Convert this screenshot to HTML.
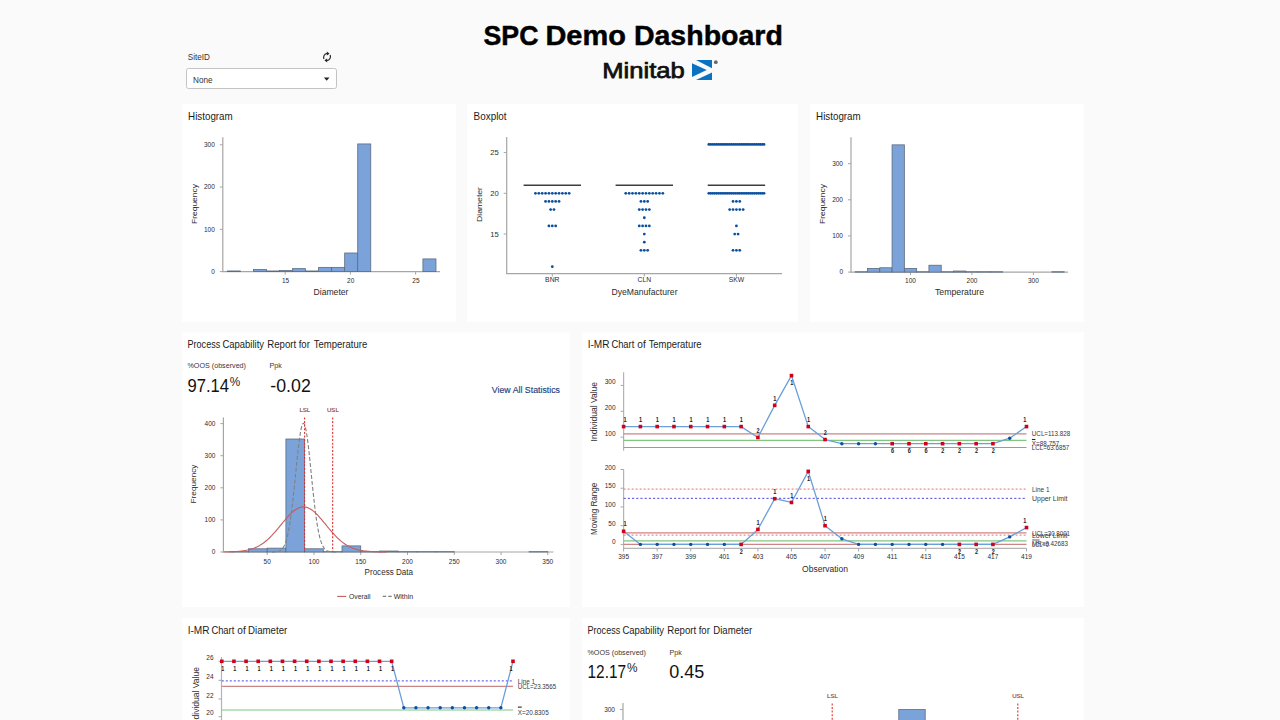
<!DOCTYPE html>
<html><head><meta charset="utf-8"><title>SPC Demo Dashboard</title>
<style>
html,body{margin:0;padding:0;background:#fafafa;overflow:hidden}
body{width:1280px;height:720px;position:relative;font-family:"Liberation Sans",sans-serif}
svg{position:absolute;left:0;top:0;display:block}
svg text{font-family:"Liberation Sans",sans-serif}
</style></head><body>
<svg width="1280" height="720" viewBox="0 0 1280 720">
<rect x="182.00" y="104.00" width="274.00" height="218.00" fill="#ffffff" />
<rect x="467.00" y="104.00" width="331.00" height="218.00" fill="#ffffff" />
<rect x="810.00" y="104.00" width="274.00" height="218.00" fill="#ffffff" />
<rect x="182.00" y="332.50" width="388.00" height="274.50" fill="#ffffff" />
<rect x="582.00" y="332.50" width="502.00" height="274.50" fill="#ffffff" />
<rect x="182.00" y="618.00" width="388.00" height="110.00" fill="#ffffff" />
<rect x="582.00" y="618.00" width="502.00" height="110.00" fill="#ffffff" />
<text x="483.50" y="45.40" font-size="27.8" text-anchor="start" fill="#000" font-weight="bold" textLength="55" lengthAdjust="spacingAndGlyphs" stroke="#000" stroke-width="0.45">SPC</text>
<text x="545.40" y="45.40" font-size="27.8" text-anchor="start" fill="#000" font-weight="bold" textLength="80.5" lengthAdjust="spacingAndGlyphs" stroke="#000" stroke-width="0.45">Demo</text>
<text x="633.90" y="45.40" font-size="27.8" text-anchor="start" fill="#000" font-weight="bold" textLength="149" lengthAdjust="spacingAndGlyphs" stroke="#000" stroke-width="0.45">Dashboard</text>
<text x="602.30" y="77.60" font-size="22.2" text-anchor="start" fill="#111" textLength="82.5" lengthAdjust="spacingAndGlyphs" stroke="#111" stroke-width="0.75">Minitab</text>
<g transform="translate(692,60)" fill="#0b72c1"><polygon points="4,0 20,0 20,8.3"/><polygon points="0,3.2 14.7,10 0,17"/><polygon points="20,12.4 20,20 4,20"/></g>
<circle cx="715.80" cy="62.20" r="1.9" fill="#6a6a6a"/>
<text x="187.80" y="59.90" font-size="9" text-anchor="start" fill="#333" textLength="22.2" lengthAdjust="spacingAndGlyphs" >SiteID</text>
<rect x="186.50" y="68.50" width="150.00" height="20.00" fill="#fff" stroke="#c4c4c4" stroke-width="1" rx="2"/>
<text x="193.00" y="82.60" font-size="8.4" text-anchor="start" fill="#333" textLength="19.5" lengthAdjust="spacingAndGlyphs" >None</text>
<polygon points="323.9,77.4 329.5,77.4 326.7,80.8" fill="#222"/>
<g fill="none" stroke="#222" stroke-width="1.15"><path d="M323.9,59 A3.5,4 0 0 1 327,53.5"/><path d="M330.2,55 A3.5,4 0 0 1 327,60.5"/></g><polygon points="326.8,51.4 329.6,53.7 326.8,55.6" fill="#222"/><polygon points="327.2,58.4 324.4,60.3 327.2,62.6" fill="#222"/>
<text x="188.10" y="119.80" font-size="10.3" text-anchor="start" fill="#1c1c1c" textLength="44.6" lengthAdjust="spacingAndGlyphs" >Histogram</text>
<line x1="222.80" y1="137.30" x2="222.80" y2="272.10" stroke="#a6a6a6" stroke-width="1.2" />
<line x1="222.20" y1="271.60" x2="440.00" y2="271.60" stroke="#a6a6a6" stroke-width="1.2" />
<line x1="219.80" y1="271.60" x2="222.80" y2="271.60" stroke="#a6a6a6" stroke-width="1" />
<text x="214.80" y="273.90" font-size="6.5" text-anchor="end" fill="#2c2c2c" >0</text>
<line x1="219.80" y1="229.33" x2="222.80" y2="229.33" stroke="#a6a6a6" stroke-width="1" />
<text x="214.80" y="231.63" font-size="6.5" text-anchor="end" fill="#2c2c2c" >100</text>
<line x1="219.80" y1="187.06" x2="222.80" y2="187.06" stroke="#a6a6a6" stroke-width="1" />
<text x="214.80" y="189.36" font-size="6.5" text-anchor="end" fill="#2c2c2c" >200</text>
<line x1="219.80" y1="144.79" x2="222.80" y2="144.79" stroke="#a6a6a6" stroke-width="1" />
<text x="214.80" y="147.09" font-size="6.5" text-anchor="end" fill="#2c2c2c" >300</text>
<line x1="285.20" y1="271.60" x2="285.20" y2="274.60" stroke="#a6a6a6" stroke-width="1" />
<text x="285.50" y="282.90" font-size="6.5" text-anchor="middle" fill="#2c2c2c" >15</text>
<line x1="350.40" y1="271.60" x2="350.40" y2="274.60" stroke="#a6a6a6" stroke-width="1" />
<text x="350.70" y="282.90" font-size="6.5" text-anchor="middle" fill="#2c2c2c" >20</text>
<line x1="415.60" y1="271.60" x2="415.60" y2="274.60" stroke="#a6a6a6" stroke-width="1" />
<text x="415.90" y="282.90" font-size="6.5" text-anchor="middle" fill="#2c2c2c" >25</text>
<rect x="227.32" y="270.97" width="13.04" height="0.63" fill="#7ba3d9" stroke="#5c6b80" stroke-width="0.8" />
<rect x="253.40" y="269.49" width="13.04" height="2.11" fill="#7ba3d9" stroke="#5c6b80" stroke-width="0.8" />
<rect x="266.44" y="270.97" width="13.04" height="0.63" fill="#7ba3d9" stroke="#5c6b80" stroke-width="0.8" />
<rect x="279.48" y="270.54" width="13.04" height="1.06" fill="#7ba3d9" stroke="#5c6b80" stroke-width="0.8" />
<rect x="292.52" y="268.64" width="13.04" height="2.96" fill="#7ba3d9" stroke="#5c6b80" stroke-width="0.8" />
<rect x="305.56" y="270.97" width="13.04" height="0.63" fill="#7ba3d9" stroke="#5c6b80" stroke-width="0.8" />
<rect x="318.60" y="267.37" width="13.04" height="4.23" fill="#7ba3d9" stroke="#5c6b80" stroke-width="0.8" />
<rect x="331.64" y="267.37" width="13.04" height="4.23" fill="#7ba3d9" stroke="#5c6b80" stroke-width="0.8" />
<rect x="344.68" y="253.00" width="13.04" height="18.60" fill="#7ba3d9" stroke="#5c6b80" stroke-width="0.8" />
<rect x="357.72" y="143.94" width="13.04" height="127.66" fill="#7ba3d9" stroke="#5c6b80" stroke-width="0.8" />
<rect x="422.92" y="258.92" width="13.04" height="12.68" fill="#7ba3d9" stroke="#5c6b80" stroke-width="0.8" />
<text x="331.00" y="295.00" font-size="8.3" text-anchor="middle" fill="#2c2c2c" textLength="35" lengthAdjust="spacingAndGlyphs" >Diameter</text>
<text x="197.20" y="204.00" font-size="8.1" text-anchor="middle" fill="#2c2c2c" textLength="40" lengthAdjust="spacingAndGlyphs" transform="rotate(-90 197.20 204.00)" >Frequency</text>
<text x="473.60" y="119.80" font-size="10.3" text-anchor="start" fill="#1c1c1c" textLength="33" lengthAdjust="spacingAndGlyphs" >Boxplot</text>
<line x1="506.70" y1="137.00" x2="506.70" y2="274.10" stroke="#a6a6a6" stroke-width="1.2" />
<line x1="506.10" y1="273.60" x2="782.00" y2="273.60" stroke="#a6a6a6" stroke-width="1.2" />
<line x1="503.70" y1="234.05" x2="506.70" y2="234.05" stroke="#a6a6a6" stroke-width="1" />
<text x="498.70" y="236.85" font-size="7.6" text-anchor="end" fill="#2c2c2c" >15</text>
<line x1="503.70" y1="193.30" x2="506.70" y2="193.30" stroke="#a6a6a6" stroke-width="1" />
<text x="498.70" y="196.10" font-size="7.6" text-anchor="end" fill="#2c2c2c" >20</text>
<line x1="503.70" y1="152.55" x2="506.70" y2="152.55" stroke="#a6a6a6" stroke-width="1" />
<text x="498.70" y="155.35" font-size="7.6" text-anchor="end" fill="#2c2c2c" >25</text>
<line x1="523.60" y1="185.15" x2="581.00" y2="185.15" stroke="#3c3c3c" stroke-width="1.5" />
<line x1="552.30" y1="273.60" x2="552.30" y2="276.60" stroke="#a6a6a6" stroke-width="1" />
<text x="552.30" y="282.00" font-size="6.8" text-anchor="middle" fill="#2c2c2c" >BNR</text>
<circle cx="535.45" cy="193.30" r="1.4" fill="#0a4fa0"/>
<circle cx="538.82" cy="193.30" r="1.4" fill="#0a4fa0"/>
<circle cx="542.19" cy="193.30" r="1.4" fill="#0a4fa0"/>
<circle cx="545.56" cy="193.30" r="1.4" fill="#0a4fa0"/>
<circle cx="548.93" cy="193.30" r="1.4" fill="#0a4fa0"/>
<circle cx="552.30" cy="193.30" r="1.4" fill="#0a4fa0"/>
<circle cx="555.67" cy="193.30" r="1.4" fill="#0a4fa0"/>
<circle cx="559.04" cy="193.30" r="1.4" fill="#0a4fa0"/>
<circle cx="562.41" cy="193.30" r="1.4" fill="#0a4fa0"/>
<circle cx="565.78" cy="193.30" r="1.4" fill="#0a4fa0"/>
<circle cx="569.15" cy="193.30" r="1.4" fill="#0a4fa0"/>
<circle cx="545.56" cy="201.45" r="1.4" fill="#0a4fa0"/>
<circle cx="548.93" cy="201.45" r="1.4" fill="#0a4fa0"/>
<circle cx="552.30" cy="201.45" r="1.4" fill="#0a4fa0"/>
<circle cx="555.67" cy="201.45" r="1.4" fill="#0a4fa0"/>
<circle cx="559.04" cy="201.45" r="1.4" fill="#0a4fa0"/>
<circle cx="550.62" cy="209.60" r="1.4" fill="#0a4fa0"/>
<circle cx="553.98" cy="209.60" r="1.4" fill="#0a4fa0"/>
<circle cx="548.93" cy="225.90" r="1.4" fill="#0a4fa0"/>
<circle cx="552.30" cy="225.90" r="1.4" fill="#0a4fa0"/>
<circle cx="555.67" cy="225.90" r="1.4" fill="#0a4fa0"/>
<circle cx="552.30" cy="266.65" r="1.4" fill="#0a4fa0"/>
<line x1="615.60" y1="185.15" x2="673.00" y2="185.15" stroke="#3c3c3c" stroke-width="1.5" />
<line x1="644.30" y1="273.60" x2="644.30" y2="276.60" stroke="#a6a6a6" stroke-width="1" />
<text x="644.30" y="282.00" font-size="6.8" text-anchor="middle" fill="#2c2c2c" >CLN</text>
<circle cx="625.76" cy="193.30" r="1.4" fill="#0a4fa0"/>
<circle cx="629.13" cy="193.30" r="1.4" fill="#0a4fa0"/>
<circle cx="632.50" cy="193.30" r="1.4" fill="#0a4fa0"/>
<circle cx="635.88" cy="193.30" r="1.4" fill="#0a4fa0"/>
<circle cx="639.25" cy="193.30" r="1.4" fill="#0a4fa0"/>
<circle cx="642.62" cy="193.30" r="1.4" fill="#0a4fa0"/>
<circle cx="645.98" cy="193.30" r="1.4" fill="#0a4fa0"/>
<circle cx="649.35" cy="193.30" r="1.4" fill="#0a4fa0"/>
<circle cx="652.72" cy="193.30" r="1.4" fill="#0a4fa0"/>
<circle cx="656.09" cy="193.30" r="1.4" fill="#0a4fa0"/>
<circle cx="659.46" cy="193.30" r="1.4" fill="#0a4fa0"/>
<circle cx="662.83" cy="193.30" r="1.4" fill="#0a4fa0"/>
<circle cx="640.93" cy="201.45" r="1.4" fill="#0a4fa0"/>
<circle cx="644.30" cy="201.45" r="1.4" fill="#0a4fa0"/>
<circle cx="647.67" cy="201.45" r="1.4" fill="#0a4fa0"/>
<circle cx="639.25" cy="209.60" r="1.4" fill="#0a4fa0"/>
<circle cx="642.62" cy="209.60" r="1.4" fill="#0a4fa0"/>
<circle cx="645.98" cy="209.60" r="1.4" fill="#0a4fa0"/>
<circle cx="649.35" cy="209.60" r="1.4" fill="#0a4fa0"/>
<circle cx="644.30" cy="217.75" r="1.4" fill="#0a4fa0"/>
<circle cx="639.25" cy="225.90" r="1.4" fill="#0a4fa0"/>
<circle cx="642.62" cy="225.90" r="1.4" fill="#0a4fa0"/>
<circle cx="645.98" cy="225.90" r="1.4" fill="#0a4fa0"/>
<circle cx="649.35" cy="225.90" r="1.4" fill="#0a4fa0"/>
<circle cx="644.30" cy="234.05" r="1.4" fill="#0a4fa0"/>
<circle cx="644.30" cy="242.20" r="1.4" fill="#0a4fa0"/>
<circle cx="640.93" cy="250.35" r="1.4" fill="#0a4fa0"/>
<circle cx="644.30" cy="250.35" r="1.4" fill="#0a4fa0"/>
<circle cx="647.67" cy="250.35" r="1.4" fill="#0a4fa0"/>
<line x1="707.70" y1="185.15" x2="765.10" y2="185.15" stroke="#3c3c3c" stroke-width="1.5" />
<line x1="736.40" y1="273.60" x2="736.40" y2="276.60" stroke="#a6a6a6" stroke-width="1" />
<text x="736.40" y="282.00" font-size="6.8" text-anchor="middle" fill="#2c2c2c" >SKW</text>
<circle cx="733.03" cy="201.45" r="1.4" fill="#0a4fa0"/>
<circle cx="736.40" cy="201.45" r="1.4" fill="#0a4fa0"/>
<circle cx="739.77" cy="201.45" r="1.4" fill="#0a4fa0"/>
<circle cx="729.66" cy="209.60" r="1.4" fill="#0a4fa0"/>
<circle cx="733.03" cy="209.60" r="1.4" fill="#0a4fa0"/>
<circle cx="736.40" cy="209.60" r="1.4" fill="#0a4fa0"/>
<circle cx="739.77" cy="209.60" r="1.4" fill="#0a4fa0"/>
<circle cx="743.14" cy="209.60" r="1.4" fill="#0a4fa0"/>
<circle cx="736.40" cy="225.90" r="1.4" fill="#0a4fa0"/>
<circle cx="734.72" cy="234.05" r="1.4" fill="#0a4fa0"/>
<circle cx="738.08" cy="234.05" r="1.4" fill="#0a4fa0"/>
<circle cx="733.03" cy="250.35" r="1.4" fill="#0a4fa0"/>
<circle cx="736.40" cy="250.35" r="1.4" fill="#0a4fa0"/>
<circle cx="739.77" cy="250.35" r="1.4" fill="#0a4fa0"/>
<circle cx="708.80" cy="144.40" r="1.4" fill="#0a4fa0"/>
<circle cx="710.70" cy="144.40" r="1.4" fill="#0a4fa0"/>
<circle cx="712.61" cy="144.40" r="1.4" fill="#0a4fa0"/>
<circle cx="714.51" cy="144.40" r="1.4" fill="#0a4fa0"/>
<circle cx="716.41" cy="144.40" r="1.4" fill="#0a4fa0"/>
<circle cx="718.32" cy="144.40" r="1.4" fill="#0a4fa0"/>
<circle cx="720.22" cy="144.40" r="1.4" fill="#0a4fa0"/>
<circle cx="722.12" cy="144.40" r="1.4" fill="#0a4fa0"/>
<circle cx="724.03" cy="144.40" r="1.4" fill="#0a4fa0"/>
<circle cx="725.93" cy="144.40" r="1.4" fill="#0a4fa0"/>
<circle cx="727.83" cy="144.40" r="1.4" fill="#0a4fa0"/>
<circle cx="729.74" cy="144.40" r="1.4" fill="#0a4fa0"/>
<circle cx="731.64" cy="144.40" r="1.4" fill="#0a4fa0"/>
<circle cx="733.54" cy="144.40" r="1.4" fill="#0a4fa0"/>
<circle cx="735.45" cy="144.40" r="1.4" fill="#0a4fa0"/>
<circle cx="737.35" cy="144.40" r="1.4" fill="#0a4fa0"/>
<circle cx="739.26" cy="144.40" r="1.4" fill="#0a4fa0"/>
<circle cx="741.16" cy="144.40" r="1.4" fill="#0a4fa0"/>
<circle cx="743.06" cy="144.40" r="1.4" fill="#0a4fa0"/>
<circle cx="744.97" cy="144.40" r="1.4" fill="#0a4fa0"/>
<circle cx="746.87" cy="144.40" r="1.4" fill="#0a4fa0"/>
<circle cx="748.77" cy="144.40" r="1.4" fill="#0a4fa0"/>
<circle cx="750.68" cy="144.40" r="1.4" fill="#0a4fa0"/>
<circle cx="752.58" cy="144.40" r="1.4" fill="#0a4fa0"/>
<circle cx="754.48" cy="144.40" r="1.4" fill="#0a4fa0"/>
<circle cx="756.39" cy="144.40" r="1.4" fill="#0a4fa0"/>
<circle cx="758.29" cy="144.40" r="1.4" fill="#0a4fa0"/>
<circle cx="760.19" cy="144.40" r="1.4" fill="#0a4fa0"/>
<circle cx="762.10" cy="144.40" r="1.4" fill="#0a4fa0"/>
<circle cx="764.00" cy="144.40" r="1.4" fill="#0a4fa0"/>
<circle cx="708.80" cy="193.30" r="1.4" fill="#0a4fa0"/>
<circle cx="710.70" cy="193.30" r="1.4" fill="#0a4fa0"/>
<circle cx="712.61" cy="193.30" r="1.4" fill="#0a4fa0"/>
<circle cx="714.51" cy="193.30" r="1.4" fill="#0a4fa0"/>
<circle cx="716.41" cy="193.30" r="1.4" fill="#0a4fa0"/>
<circle cx="718.32" cy="193.30" r="1.4" fill="#0a4fa0"/>
<circle cx="720.22" cy="193.30" r="1.4" fill="#0a4fa0"/>
<circle cx="722.12" cy="193.30" r="1.4" fill="#0a4fa0"/>
<circle cx="724.03" cy="193.30" r="1.4" fill="#0a4fa0"/>
<circle cx="725.93" cy="193.30" r="1.4" fill="#0a4fa0"/>
<circle cx="727.83" cy="193.30" r="1.4" fill="#0a4fa0"/>
<circle cx="729.74" cy="193.30" r="1.4" fill="#0a4fa0"/>
<circle cx="731.64" cy="193.30" r="1.4" fill="#0a4fa0"/>
<circle cx="733.54" cy="193.30" r="1.4" fill="#0a4fa0"/>
<circle cx="735.45" cy="193.30" r="1.4" fill="#0a4fa0"/>
<circle cx="737.35" cy="193.30" r="1.4" fill="#0a4fa0"/>
<circle cx="739.26" cy="193.30" r="1.4" fill="#0a4fa0"/>
<circle cx="741.16" cy="193.30" r="1.4" fill="#0a4fa0"/>
<circle cx="743.06" cy="193.30" r="1.4" fill="#0a4fa0"/>
<circle cx="744.97" cy="193.30" r="1.4" fill="#0a4fa0"/>
<circle cx="746.87" cy="193.30" r="1.4" fill="#0a4fa0"/>
<circle cx="748.77" cy="193.30" r="1.4" fill="#0a4fa0"/>
<circle cx="750.68" cy="193.30" r="1.4" fill="#0a4fa0"/>
<circle cx="752.58" cy="193.30" r="1.4" fill="#0a4fa0"/>
<circle cx="754.48" cy="193.30" r="1.4" fill="#0a4fa0"/>
<circle cx="756.39" cy="193.30" r="1.4" fill="#0a4fa0"/>
<circle cx="758.29" cy="193.30" r="1.4" fill="#0a4fa0"/>
<circle cx="760.19" cy="193.30" r="1.4" fill="#0a4fa0"/>
<circle cx="762.10" cy="193.30" r="1.4" fill="#0a4fa0"/>
<circle cx="764.00" cy="193.30" r="1.4" fill="#0a4fa0"/>
<text x="644.50" y="295.00" font-size="8.3" text-anchor="middle" fill="#2c2c2c" textLength="66" lengthAdjust="spacingAndGlyphs" >DyeManufacturer</text>
<text x="482.30" y="204.50" font-size="8.1" text-anchor="middle" fill="#2c2c2c" textLength="35" lengthAdjust="spacingAndGlyphs" transform="rotate(-90 482.30 204.50)" >Diameter</text>
<text x="816.10" y="119.80" font-size="10.3" text-anchor="start" fill="#1c1c1c" textLength="44.6" lengthAdjust="spacingAndGlyphs" >Histogram</text>
<line x1="851.00" y1="137.30" x2="851.00" y2="272.60" stroke="#a6a6a6" stroke-width="1.2" />
<line x1="850.40" y1="272.10" x2="1068.00" y2="272.10" stroke="#a6a6a6" stroke-width="1.2" />
<line x1="848.00" y1="272.10" x2="851.00" y2="272.10" stroke="#a6a6a6" stroke-width="1" />
<text x="843.00" y="274.40" font-size="6.5" text-anchor="end" fill="#2c2c2c" >0</text>
<line x1="848.00" y1="235.95" x2="851.00" y2="235.95" stroke="#a6a6a6" stroke-width="1" />
<text x="843.00" y="238.25" font-size="6.5" text-anchor="end" fill="#2c2c2c" >100</text>
<line x1="848.00" y1="199.80" x2="851.00" y2="199.80" stroke="#a6a6a6" stroke-width="1" />
<text x="843.00" y="202.10" font-size="6.5" text-anchor="end" fill="#2c2c2c" >200</text>
<line x1="848.00" y1="163.65" x2="851.00" y2="163.65" stroke="#a6a6a6" stroke-width="1" />
<text x="843.00" y="165.95" font-size="6.5" text-anchor="end" fill="#2c2c2c" >300</text>
<line x1="910.50" y1="272.10" x2="910.50" y2="275.10" stroke="#a6a6a6" stroke-width="1" />
<text x="910.50" y="282.70" font-size="6.5" text-anchor="middle" fill="#2c2c2c" >100</text>
<line x1="971.95" y1="272.10" x2="971.95" y2="275.10" stroke="#a6a6a6" stroke-width="1" />
<text x="971.95" y="282.70" font-size="6.5" text-anchor="middle" fill="#2c2c2c" >200</text>
<line x1="1033.40" y1="272.10" x2="1033.40" y2="275.10" stroke="#a6a6a6" stroke-width="1" />
<text x="1033.40" y="282.70" font-size="6.5" text-anchor="middle" fill="#2c2c2c" >300</text>
<rect x="855.19" y="271.74" width="12.29" height="0.36" fill="#7ba3d9" stroke="#5c6b80" stroke-width="0.8" />
<rect x="867.49" y="268.49" width="12.29" height="3.61" fill="#7ba3d9" stroke="#5c6b80" stroke-width="0.8" />
<rect x="879.77" y="267.76" width="12.29" height="4.34" fill="#7ba3d9" stroke="#5c6b80" stroke-width="0.8" />
<rect x="892.07" y="144.85" width="12.29" height="127.25" fill="#7ba3d9" stroke="#5c6b80" stroke-width="0.8" />
<rect x="904.36" y="268.49" width="12.29" height="3.61" fill="#7ba3d9" stroke="#5c6b80" stroke-width="0.8" />
<rect x="916.64" y="271.74" width="12.29" height="0.36" fill="#7ba3d9" stroke="#5c6b80" stroke-width="0.8" />
<rect x="928.93" y="265.23" width="12.29" height="6.87" fill="#7ba3d9" stroke="#5c6b80" stroke-width="0.8" />
<rect x="941.23" y="271.74" width="12.29" height="0.36" fill="#7ba3d9" stroke="#5c6b80" stroke-width="0.8" />
<rect x="953.51" y="271.02" width="12.29" height="1.08" fill="#7ba3d9" stroke="#5c6b80" stroke-width="0.8" />
<rect x="965.81" y="271.74" width="12.29" height="0.36" fill="#7ba3d9" stroke="#5c6b80" stroke-width="0.8" />
<rect x="978.10" y="271.74" width="12.29" height="0.36" fill="#7ba3d9" stroke="#5c6b80" stroke-width="0.8" />
<rect x="990.38" y="271.74" width="12.29" height="0.36" fill="#7ba3d9" stroke="#5c6b80" stroke-width="0.8" />
<rect x="1051.84" y="271.74" width="12.29" height="0.36" fill="#7ba3d9" stroke="#5c6b80" stroke-width="0.8" />
<text x="959.50" y="295.00" font-size="8.3" text-anchor="middle" fill="#2c2c2c" textLength="49" lengthAdjust="spacingAndGlyphs" >Temperature</text>
<text x="825.00" y="204.00" font-size="8.1" text-anchor="middle" fill="#2c2c2c" textLength="40" lengthAdjust="spacingAndGlyphs" transform="rotate(-90 825.00 204.00)" >Frequency</text>
<text x="187.55" y="347.70" font-size="10.3" text-anchor="start" fill="#1c1c1c" textLength="32.65" lengthAdjust="spacingAndGlyphs" >Process</text>
<text x="222.49" y="347.70" font-size="10.3" text-anchor="start" fill="#1c1c1c" textLength="41.56" lengthAdjust="spacingAndGlyphs" >Capability</text>
<text x="267.20" y="347.70" font-size="10.3" text-anchor="start" fill="#1c1c1c" textLength="28.99" lengthAdjust="spacingAndGlyphs" >Report</text>
<text x="298.66" y="347.70" font-size="10.3" text-anchor="start" fill="#1c1c1c" textLength="11.2" lengthAdjust="spacingAndGlyphs" >for</text>
<text x="313.75" y="347.70" font-size="10.3" text-anchor="start" fill="#1c1c1c" textLength="53.47" lengthAdjust="spacingAndGlyphs" >Temperature</text>
<text x="187.50" y="368.30" font-size="7.7" text-anchor="start" fill="#383838" textLength="58.5" lengthAdjust="spacingAndGlyphs" >%OOS (observed)</text>
<text x="269.50" y="368.30" font-size="7.7" text-anchor="start" fill="#383838" textLength="12.3" lengthAdjust="spacingAndGlyphs" >Ppk</text>
<text x="187.50" y="391.60" font-size="17.8" text-anchor="start" fill="#111" textLength="41.5" lengthAdjust="spacingAndGlyphs" >97.14</text>
<text x="229.80" y="386.00" font-size="12" text-anchor="start" fill="#222" textLength="10.5" lengthAdjust="spacingAndGlyphs" >%</text>
<text x="270.30" y="391.60" font-size="17.8" text-anchor="start" fill="#111" textLength="40.5" lengthAdjust="spacingAndGlyphs" >-0.02</text>
<text x="560.00" y="392.90" font-size="8.3" text-anchor="end" fill="#1f3f7f" textLength="68.2" lengthAdjust="spacingAndGlyphs" stroke="#1f3f7f" stroke-width="0.15">View All Statistics</text>
<line x1="223.40" y1="417.50" x2="223.40" y2="552.50" stroke="#a6a6a6" stroke-width="1.2" />
<line x1="222.80" y1="552.00" x2="553.50" y2="552.00" stroke="#a6a6a6" stroke-width="1.2" />
<line x1="220.40" y1="552.00" x2="223.40" y2="552.00" stroke="#a6a6a6" stroke-width="1" />
<text x="215.40" y="554.30" font-size="6.5" text-anchor="end" fill="#2c2c2c" >0</text>
<line x1="220.40" y1="519.90" x2="223.40" y2="519.90" stroke="#a6a6a6" stroke-width="1" />
<text x="215.40" y="522.20" font-size="6.5" text-anchor="end" fill="#2c2c2c" >100</text>
<line x1="220.40" y1="487.80" x2="223.40" y2="487.80" stroke="#a6a6a6" stroke-width="1" />
<text x="215.40" y="490.10" font-size="6.5" text-anchor="end" fill="#2c2c2c" >200</text>
<line x1="220.40" y1="455.70" x2="223.40" y2="455.70" stroke="#a6a6a6" stroke-width="1" />
<text x="215.40" y="458.00" font-size="6.5" text-anchor="end" fill="#2c2c2c" >300</text>
<line x1="220.40" y1="423.60" x2="223.40" y2="423.60" stroke="#a6a6a6" stroke-width="1" />
<text x="215.40" y="425.90" font-size="6.5" text-anchor="end" fill="#2c2c2c" >400</text>
<line x1="267.20" y1="552.00" x2="267.20" y2="555.00" stroke="#a6a6a6" stroke-width="1" />
<text x="267.20" y="563.50" font-size="6.5" text-anchor="middle" fill="#2c2c2c" >50</text>
<line x1="313.96" y1="552.00" x2="313.96" y2="555.00" stroke="#a6a6a6" stroke-width="1" />
<text x="313.96" y="563.50" font-size="6.5" text-anchor="middle" fill="#2c2c2c" >100</text>
<line x1="360.73" y1="552.00" x2="360.73" y2="555.00" stroke="#a6a6a6" stroke-width="1" />
<text x="360.73" y="563.50" font-size="6.5" text-anchor="middle" fill="#2c2c2c" >150</text>
<line x1="407.50" y1="552.00" x2="407.50" y2="555.00" stroke="#a6a6a6" stroke-width="1" />
<text x="407.50" y="563.50" font-size="6.5" text-anchor="middle" fill="#2c2c2c" >200</text>
<line x1="454.26" y1="552.00" x2="454.26" y2="555.00" stroke="#a6a6a6" stroke-width="1" />
<text x="454.26" y="563.50" font-size="6.5" text-anchor="middle" fill="#2c2c2c" >250</text>
<line x1="501.02" y1="552.00" x2="501.02" y2="555.00" stroke="#a6a6a6" stroke-width="1" />
<text x="501.02" y="563.50" font-size="6.5" text-anchor="middle" fill="#2c2c2c" >300</text>
<line x1="547.79" y1="552.00" x2="547.79" y2="555.00" stroke="#a6a6a6" stroke-width="1" />
<text x="547.79" y="563.50" font-size="6.5" text-anchor="middle" fill="#2c2c2c" >350</text>
<rect x="229.79" y="551.68" width="18.71" height="0.32" fill="#7ba3d9" stroke="#5c6b80" stroke-width="0.8" />
<rect x="248.49" y="548.79" width="18.71" height="3.21" fill="#7ba3d9" stroke="#5c6b80" stroke-width="0.8" />
<rect x="267.20" y="548.15" width="18.71" height="3.85" fill="#7ba3d9" stroke="#5c6b80" stroke-width="0.8" />
<rect x="285.91" y="439.01" width="18.71" height="112.99" fill="#7ba3d9" stroke="#5c6b80" stroke-width="0.8" />
<rect x="304.61" y="548.79" width="18.71" height="3.21" fill="#7ba3d9" stroke="#5c6b80" stroke-width="0.8" />
<rect x="323.32" y="551.68" width="18.71" height="0.32" fill="#7ba3d9" stroke="#5c6b80" stroke-width="0.8" />
<rect x="342.02" y="545.90" width="18.71" height="6.10" fill="#7ba3d9" stroke="#5c6b80" stroke-width="0.8" />
<rect x="360.73" y="551.68" width="18.71" height="0.32" fill="#7ba3d9" stroke="#5c6b80" stroke-width="0.8" />
<rect x="379.44" y="551.04" width="18.71" height="0.96" fill="#7ba3d9" stroke="#5c6b80" stroke-width="0.8" />
<rect x="398.14" y="551.68" width="18.71" height="0.32" fill="#7ba3d9" stroke="#5c6b80" stroke-width="0.8" />
<rect x="416.85" y="551.68" width="18.71" height="0.32" fill="#7ba3d9" stroke="#5c6b80" stroke-width="0.8" />
<rect x="435.55" y="551.68" width="18.71" height="0.32" fill="#7ba3d9" stroke="#5c6b80" stroke-width="0.8" />
<rect x="529.08" y="551.68" width="18.71" height="0.32" fill="#7ba3d9" stroke="#5c6b80" stroke-width="0.8" />
<polyline points="224.18,551.92 225.11,551.91 226.05,551.89 226.98,551.87 227.92,551.85 228.85,551.83 229.79,551.81 230.72,551.78 231.66,551.75 232.59,551.71 233.53,551.67 234.46,551.62 235.40,551.57 236.34,551.51 237.27,551.45 238.21,551.37 239.14,551.29 240.08,551.20 241.01,551.10 241.95,550.99 242.88,550.87 243.82,550.73 244.75,550.59 245.69,550.42 246.62,550.24 247.56,550.05 248.49,549.83 249.43,549.60 250.36,549.34 251.30,549.07 252.24,548.77 253.17,548.44 254.11,548.09 255.04,547.72 255.98,547.31 256.91,546.88 257.85,546.42 258.78,545.93 259.72,545.40 260.65,544.84 261.59,544.25 262.52,543.62 263.46,542.96 264.39,542.26 265.33,541.53 266.26,540.76 267.20,539.96 268.14,539.12 269.07,538.25 270.01,537.34 270.94,536.40 271.88,535.44 272.81,534.44 273.75,533.41 274.68,532.36 275.62,531.29 276.55,530.20 277.49,529.09 278.42,527.96 279.36,526.83 280.29,525.68 281.23,524.54 282.16,523.39 283.10,522.25 284.04,521.12 284.97,520.00 285.91,518.89 286.84,517.81 287.78,516.76 288.71,515.74 289.65,514.75 290.58,513.81 291.52,512.91 292.45,512.06 293.39,511.26 294.32,510.52 295.26,509.84 296.19,509.22 297.13,508.67 298.06,508.19 299.00,507.79 299.94,507.45 300.87,507.20 301.81,507.02 302.74,506.92 303.68,506.90 304.61,506.96 305.55,507.10 306.48,507.31 307.42,507.61 308.35,507.97 309.29,508.42 310.22,508.93 311.16,509.51 312.09,510.16 313.03,510.87 313.96,511.64 314.90,512.46 315.84,513.34 316.77,514.26 317.71,515.23 318.64,516.23 319.58,517.27 320.51,518.34 321.45,519.43 322.38,520.54 323.32,521.67 324.25,522.80 325.19,523.95 326.12,525.09 327.06,526.24 327.99,527.38 328.93,528.51 329.87,529.63 330.80,530.73 331.74,531.81 332.67,532.88 333.61,533.91 334.54,534.93 335.48,535.91 336.41,536.86 337.35,537.78 338.28,538.67 339.22,539.53 340.15,540.35 341.09,541.14 342.02,541.89 342.96,542.60 343.89,543.28 344.83,543.93 345.77,544.54 346.70,545.12 347.64,545.66 348.57,546.17 349.51,546.65 350.44,547.10 351.38,547.51 352.31,547.90 353.25,548.27 354.18,548.60 355.12,548.92 356.05,549.20 356.99,549.47 357.92,549.71 358.86,549.94 359.79,550.14 360.73,550.33 361.67,550.50 362.60,550.66 363.54,550.80 364.47,550.93 365.41,551.05 366.34,551.15 367.28,551.25 368.21,551.33 369.15,551.41 370.08,551.48 371.02,551.54 371.95,551.60 372.89,551.65 373.82,551.69 374.76,551.73 375.69,551.76 376.63,551.79 377.57,551.82 378.50,551.84 379.44,551.86 380.37,551.88 381.31,551.90 382.24,551.91 383.18,551.92 384.11,551.93 385.05,551.94 385.98,551.95 386.92,551.96" fill="none" stroke="#c45c5c" stroke-width="1.1" stroke-linejoin="round"/>
<polyline points="271.88,551.96 272.34,551.95 272.81,551.94 273.28,551.92 273.75,551.91 274.21,551.88 274.68,551.85 275.15,551.82 275.62,551.77 276.09,551.72 276.55,551.65 277.02,551.57 277.49,551.48 277.96,551.37 278.42,551.23 278.89,551.07 279.36,550.88 279.83,550.66 280.29,550.40 280.76,550.09 281.23,549.73 281.70,549.31 282.16,548.83 282.63,548.28 283.10,547.65 283.57,546.92 284.04,546.10 284.50,545.17 284.97,544.12 285.44,542.94 285.91,541.62 286.37,540.15 286.84,538.52 287.31,536.72 287.78,534.74 288.24,532.58 288.71,530.22 289.18,527.66 289.65,524.91 290.11,521.94 290.58,518.77 291.05,515.40 291.52,511.83 291.99,508.08 292.45,504.14 292.92,500.03 293.39,495.77 293.86,491.38 294.32,486.88 294.79,482.30 295.26,477.66 295.73,472.99 296.19,468.34 296.66,463.72 297.13,459.18 297.60,454.76 298.06,450.49 298.53,446.41 299.00,442.56 299.47,438.97 299.94,435.69 300.40,432.73 300.87,430.14 301.34,427.93 301.81,426.14 302.27,424.77 302.74,423.85 303.21,423.39 303.68,423.38 304.14,423.83 304.61,424.74 305.08,426.09 305.55,427.88 306.01,430.07 306.48,432.65 306.95,435.60 307.42,438.88 307.89,442.45 308.35,446.30 308.82,450.37 309.29,454.64 309.76,459.06 310.22,463.59 310.69,468.21 311.16,472.86 311.63,477.53 312.09,482.17 312.56,486.75 313.03,491.26 313.50,495.65 313.96,499.91 314.43,504.02 314.90,507.97 315.37,511.73 315.84,515.31 316.30,518.68 316.77,521.86 317.24,524.83 317.71,527.59 318.17,530.15 318.64,532.51 319.11,534.68 319.58,536.66 320.04,538.47 320.51,540.10 320.98,541.58 321.45,542.90 321.92,544.09 322.38,545.14 322.85,546.08 323.32,546.90 323.79,547.63 324.25,548.26 324.72,548.82 325.19,549.30 325.66,549.72 326.12,550.08 326.59,550.39 327.06,550.65 327.53,550.88 327.99,551.07 328.46,551.23 328.93,551.36 329.40,551.48 329.87,551.57 330.33,551.65 330.80,551.72 331.27,551.77 331.74,551.81 332.20,551.85 332.67,551.88 333.14,551.90 333.61,551.92 334.07,551.94 334.54,551.95 335.01,551.96 335.48,551.97 335.94,551.98 336.41,551.98 336.88,551.99" fill="none" stroke="#808080" stroke-width="1.1" stroke-dasharray="4 2" stroke-linejoin="round"/>
<line x1="304.61" y1="417.50" x2="304.61" y2="552.00" stroke="#e03030" stroke-width="1.1" stroke-dasharray="2 1.6" />
<text x="304.81" y="411.60" font-size="6.1" text-anchor="middle" fill="#96402f" stroke="#96402f" stroke-width="0.15">LSL</text>
<line x1="332.67" y1="417.50" x2="332.67" y2="552.00" stroke="#e03030" stroke-width="1.1" stroke-dasharray="2 1.6" />
<text x="332.87" y="411.60" font-size="6.1" text-anchor="middle" fill="#96402f" stroke="#96402f" stroke-width="0.15">USL</text>
<text x="388.80" y="574.60" font-size="8.3" text-anchor="middle" fill="#2c2c2c" textLength="48.5" lengthAdjust="spacingAndGlyphs" >Process Data</text>
<text x="196.30" y="484.00" font-size="8.1" text-anchor="middle" fill="#2c2c2c" textLength="39" lengthAdjust="spacingAndGlyphs" transform="rotate(-90 196.30 484.00)" >Frequency</text>
<line x1="337.20" y1="596.40" x2="346.20" y2="596.40" stroke="#c45c5c" stroke-width="1.1" />
<text x="349.00" y="598.60" font-size="6.3" text-anchor="start" fill="#2c2c2c" textLength="21.5" lengthAdjust="spacingAndGlyphs" >Overall</text>
<line x1="382.70" y1="596.40" x2="391.70" y2="596.40" stroke="#808080" stroke-width="1.1" stroke-dasharray="3.5 2" />
<text x="393.70" y="598.60" font-size="6.3" text-anchor="start" fill="#2c2c2c" textLength="19.5" lengthAdjust="spacingAndGlyphs" >Within</text>
<text x="587.71" y="347.70" font-size="10.3" text-anchor="start" fill="#1c1c1c" textLength="21.86" lengthAdjust="spacingAndGlyphs" >I-MR</text>
<text x="611.40" y="347.70" font-size="10.3" text-anchor="start" fill="#1c1c1c" textLength="22.86" lengthAdjust="spacingAndGlyphs" >Chart</text>
<text x="637.37" y="347.70" font-size="10.3" text-anchor="start" fill="#1c1c1c" textLength="8.48" lengthAdjust="spacingAndGlyphs" >of</text>
<text x="648.65" y="347.70" font-size="10.3" text-anchor="start" fill="#1c1c1c" textLength="52.97" lengthAdjust="spacingAndGlyphs" >Temperature</text>
<line x1="623.60" y1="372.20" x2="623.60" y2="450.80" stroke="#b4b4b4" stroke-width="1.2" />
<line x1="620.60" y1="437.20" x2="623.60" y2="437.20" stroke="#a6a6a6" stroke-width="1" />
<text x="615.60" y="435.80" font-size="6.5" text-anchor="end" fill="#2c2c2c" >100</text>
<line x1="620.60" y1="411.30" x2="623.60" y2="411.30" stroke="#a6a6a6" stroke-width="1" />
<text x="615.60" y="409.90" font-size="6.5" text-anchor="end" fill="#2c2c2c" >200</text>
<line x1="620.60" y1="385.40" x2="623.60" y2="385.40" stroke="#a6a6a6" stroke-width="1" />
<text x="615.60" y="384.00" font-size="6.5" text-anchor="end" fill="#2c2c2c" >300</text>
<line x1="623.60" y1="433.90" x2="1026.50" y2="433.90" stroke="#cc8585" stroke-width="1.2" />
<line x1="623.60" y1="440.40" x2="1026.50" y2="440.40" stroke="#80c680" stroke-width="1.2" />
<line x1="623.60" y1="447.50" x2="1026.50" y2="447.50" stroke="#cc8585" stroke-width="1.2" />
<polyline points="623.60,426.58 640.39,426.58 657.18,426.58 673.96,426.58 690.75,426.58 707.54,426.58 724.33,426.58 741.11,426.58 757.90,437.46 774.69,405.34 791.48,375.56 808.26,426.58 825.05,439.53 841.84,443.68 858.62,443.68 875.41,443.68 892.20,443.68 908.99,443.68 925.77,443.68 942.56,443.68 959.35,443.68 976.14,443.68 992.92,443.68 1009.71,438.24 1026.50,426.58" fill="none" stroke="#6a9fda" stroke-width="1.3" stroke-linejoin="round"/>
<rect x="621.80" y="424.78" width="3.60" height="3.60" fill="#d0021b" />
<text x="625.00" y="421.58" font-size="7.1" text-anchor="middle" fill="#1a1a2a" font-weight="bold" textLength="3.1" lengthAdjust="spacingAndGlyphs" >1</text>
<rect x="638.59" y="424.78" width="3.60" height="3.60" fill="#d0021b" />
<text x="640.59" y="421.78" font-size="7.1" text-anchor="middle" fill="#1a1a2a" font-weight="bold" textLength="3.1" lengthAdjust="spacingAndGlyphs" >1</text>
<rect x="655.38" y="424.78" width="3.60" height="3.60" fill="#d0021b" />
<text x="657.38" y="421.78" font-size="7.1" text-anchor="middle" fill="#1a1a2a" font-weight="bold" textLength="3.1" lengthAdjust="spacingAndGlyphs" >1</text>
<rect x="672.16" y="424.78" width="3.60" height="3.60" fill="#d0021b" />
<text x="674.16" y="421.78" font-size="7.1" text-anchor="middle" fill="#1a1a2a" font-weight="bold" textLength="3.1" lengthAdjust="spacingAndGlyphs" >1</text>
<rect x="688.95" y="424.78" width="3.60" height="3.60" fill="#d0021b" />
<text x="690.95" y="421.78" font-size="7.1" text-anchor="middle" fill="#1a1a2a" font-weight="bold" textLength="3.1" lengthAdjust="spacingAndGlyphs" >1</text>
<rect x="705.74" y="424.78" width="3.60" height="3.60" fill="#d0021b" />
<text x="707.74" y="421.78" font-size="7.1" text-anchor="middle" fill="#1a1a2a" font-weight="bold" textLength="3.1" lengthAdjust="spacingAndGlyphs" >1</text>
<rect x="722.53" y="424.78" width="3.60" height="3.60" fill="#d0021b" />
<text x="724.53" y="421.78" font-size="7.1" text-anchor="middle" fill="#1a1a2a" font-weight="bold" textLength="3.1" lengthAdjust="spacingAndGlyphs" >1</text>
<rect x="739.31" y="424.78" width="3.60" height="3.60" fill="#d0021b" />
<text x="741.31" y="421.78" font-size="7.1" text-anchor="middle" fill="#1a1a2a" font-weight="bold" textLength="3.1" lengthAdjust="spacingAndGlyphs" >1</text>
<rect x="756.10" y="435.66" width="3.60" height="3.60" fill="#d0021b" />
<text x="758.10" y="432.66" font-size="7.1" text-anchor="middle" fill="#1a1a2a" font-weight="bold" textLength="3.1" lengthAdjust="spacingAndGlyphs" >2</text>
<rect x="772.89" y="403.54" width="3.60" height="3.60" fill="#d0021b" />
<text x="774.89" y="400.54" font-size="7.1" text-anchor="middle" fill="#1a1a2a" font-weight="bold" textLength="3.1" lengthAdjust="spacingAndGlyphs" >1</text>
<rect x="789.68" y="373.76" width="3.60" height="3.60" fill="#d0021b" />
<text x="791.77" y="384.76" font-size="7.1" text-anchor="middle" fill="#1a1a2a" font-weight="bold" textLength="3.1" lengthAdjust="spacingAndGlyphs" >1</text>
<rect x="806.46" y="424.78" width="3.60" height="3.60" fill="#d0021b" />
<text x="808.46" y="421.78" font-size="7.1" text-anchor="middle" fill="#1a1a2a" font-weight="bold" textLength="3.1" lengthAdjust="spacingAndGlyphs" >1</text>
<rect x="823.25" y="437.73" width="3.60" height="3.60" fill="#d0021b" />
<text x="825.25" y="434.73" font-size="7.1" text-anchor="middle" fill="#1a1a2a" font-weight="bold" textLength="3.1" lengthAdjust="spacingAndGlyphs" >2</text>
<circle cx="841.84" cy="443.68" r="1.7" fill="#0a4fa0"/>
<circle cx="858.62" cy="443.68" r="1.7" fill="#0a4fa0"/>
<circle cx="875.41" cy="443.68" r="1.7" fill="#0a4fa0"/>
<rect x="890.40" y="441.88" width="3.60" height="3.60" fill="#d0021b" />
<text x="892.50" y="452.88" font-size="7.1" text-anchor="middle" fill="#1a1a2a" font-weight="bold" textLength="3.1" lengthAdjust="spacingAndGlyphs" >6</text>
<rect x="907.19" y="441.88" width="3.60" height="3.60" fill="#d0021b" />
<text x="909.29" y="452.88" font-size="7.1" text-anchor="middle" fill="#1a1a2a" font-weight="bold" textLength="3.1" lengthAdjust="spacingAndGlyphs" >6</text>
<rect x="923.98" y="441.88" width="3.60" height="3.60" fill="#d0021b" />
<text x="926.07" y="452.88" font-size="7.1" text-anchor="middle" fill="#1a1a2a" font-weight="bold" textLength="3.1" lengthAdjust="spacingAndGlyphs" >6</text>
<rect x="940.76" y="441.88" width="3.60" height="3.60" fill="#d0021b" />
<text x="942.86" y="452.88" font-size="7.1" text-anchor="middle" fill="#1a1a2a" font-weight="bold" textLength="3.1" lengthAdjust="spacingAndGlyphs" >2</text>
<rect x="957.55" y="441.88" width="3.60" height="3.60" fill="#d0021b" />
<text x="959.65" y="452.88" font-size="7.1" text-anchor="middle" fill="#1a1a2a" font-weight="bold" textLength="3.1" lengthAdjust="spacingAndGlyphs" >2</text>
<rect x="974.34" y="441.88" width="3.60" height="3.60" fill="#d0021b" />
<text x="976.44" y="452.88" font-size="7.1" text-anchor="middle" fill="#1a1a2a" font-weight="bold" textLength="3.1" lengthAdjust="spacingAndGlyphs" >2</text>
<rect x="991.12" y="441.88" width="3.60" height="3.60" fill="#d0021b" />
<text x="993.22" y="452.88" font-size="7.1" text-anchor="middle" fill="#1a1a2a" font-weight="bold" textLength="3.1" lengthAdjust="spacingAndGlyphs" >2</text>
<circle cx="1009.71" cy="438.24" r="1.7" fill="#0a4fa0"/>
<rect x="1024.70" y="424.78" width="3.60" height="3.60" fill="#d0021b" />
<text x="1024.80" y="421.78" font-size="7.1" text-anchor="middle" fill="#1a1a2a" font-weight="bold" textLength="3.1" lengthAdjust="spacingAndGlyphs" >1</text>
<text x="1031.80" y="436.40" font-size="6.5" text-anchor="start" fill="#383838" textLength="38.5" lengthAdjust="spacingAndGlyphs" >UCL=113.828</text>
<text x="1031.80" y="445.60" font-size="6.5" text-anchor="start" fill="#383838" textLength="27.5" lengthAdjust="spacingAndGlyphs" >X=88.757</text>
<line x1="1031.90" y1="439.50" x2="1035.40" y2="439.50" stroke="#222" stroke-width="1.1" />
<text x="1031.80" y="450.00" font-size="6.5" text-anchor="start" fill="#383838" textLength="37.5" lengthAdjust="spacingAndGlyphs" >LCL=63.6857</text>
<text x="596.70" y="411.70" font-size="8.3" text-anchor="middle" fill="#2c2c2c" textLength="59.5" lengthAdjust="spacingAndGlyphs" transform="rotate(-90 596.70 411.70)" >Individual Value</text>
<line x1="623.60" y1="469.20" x2="623.60" y2="548.90" stroke="#b4b4b4" stroke-width="1.2" />
<line x1="623.00" y1="548.40" x2="1026.50" y2="548.40" stroke="#b4b4b4" stroke-width="1.2" />
<line x1="620.60" y1="544.40" x2="623.60" y2="544.40" stroke="#a6a6a6" stroke-width="1" />
<text x="615.60" y="544.30" font-size="6.5" text-anchor="end" fill="#2c2c2c" >0</text>
<line x1="620.60" y1="525.67" x2="623.60" y2="525.67" stroke="#a6a6a6" stroke-width="1" />
<text x="615.60" y="525.58" font-size="6.5" text-anchor="end" fill="#2c2c2c" >50</text>
<line x1="620.60" y1="506.95" x2="623.60" y2="506.95" stroke="#a6a6a6" stroke-width="1" />
<text x="615.60" y="506.85" font-size="6.5" text-anchor="end" fill="#2c2c2c" >100</text>
<line x1="620.60" y1="488.22" x2="623.60" y2="488.22" stroke="#a6a6a6" stroke-width="1" />
<text x="615.60" y="488.12" font-size="6.5" text-anchor="end" fill="#2c2c2c" >150</text>
<line x1="620.60" y1="469.50" x2="623.60" y2="469.50" stroke="#a6a6a6" stroke-width="1" />
<text x="615.60" y="470.10" font-size="6.5" text-anchor="end" fill="#2c2c2c" >200</text>
<line x1="623.60" y1="548.40" x2="623.60" y2="551.40" stroke="#a6a6a6" stroke-width="1" />
<text x="623.60" y="559.20" font-size="6.5" text-anchor="middle" fill="#2c2c2c" >395</text>
<line x1="657.18" y1="548.40" x2="657.18" y2="551.40" stroke="#a6a6a6" stroke-width="1" />
<text x="657.18" y="559.20" font-size="6.5" text-anchor="middle" fill="#2c2c2c" >397</text>
<line x1="690.75" y1="548.40" x2="690.75" y2="551.40" stroke="#a6a6a6" stroke-width="1" />
<text x="690.75" y="559.20" font-size="6.5" text-anchor="middle" fill="#2c2c2c" >399</text>
<line x1="724.33" y1="548.40" x2="724.33" y2="551.40" stroke="#a6a6a6" stroke-width="1" />
<text x="724.33" y="559.20" font-size="6.5" text-anchor="middle" fill="#2c2c2c" >401</text>
<line x1="757.90" y1="548.40" x2="757.90" y2="551.40" stroke="#a6a6a6" stroke-width="1" />
<text x="757.90" y="559.20" font-size="6.5" text-anchor="middle" fill="#2c2c2c" >403</text>
<line x1="791.48" y1="548.40" x2="791.48" y2="551.40" stroke="#a6a6a6" stroke-width="1" />
<text x="791.48" y="559.20" font-size="6.5" text-anchor="middle" fill="#2c2c2c" >405</text>
<line x1="825.05" y1="548.40" x2="825.05" y2="551.40" stroke="#a6a6a6" stroke-width="1" />
<text x="825.05" y="559.20" font-size="6.5" text-anchor="middle" fill="#2c2c2c" >407</text>
<line x1="858.62" y1="548.40" x2="858.62" y2="551.40" stroke="#a6a6a6" stroke-width="1" />
<text x="858.62" y="559.20" font-size="6.5" text-anchor="middle" fill="#2c2c2c" >409</text>
<line x1="892.20" y1="548.40" x2="892.20" y2="551.40" stroke="#a6a6a6" stroke-width="1" />
<text x="892.20" y="559.20" font-size="6.5" text-anchor="middle" fill="#2c2c2c" >411</text>
<line x1="925.77" y1="548.40" x2="925.77" y2="551.40" stroke="#a6a6a6" stroke-width="1" />
<text x="925.77" y="559.20" font-size="6.5" text-anchor="middle" fill="#2c2c2c" >413</text>
<line x1="959.35" y1="548.40" x2="959.35" y2="551.40" stroke="#a6a6a6" stroke-width="1" />
<text x="959.35" y="559.20" font-size="6.5" text-anchor="middle" fill="#2c2c2c" >415</text>
<line x1="992.92" y1="548.40" x2="992.92" y2="551.40" stroke="#a6a6a6" stroke-width="1" />
<text x="992.92" y="559.20" font-size="6.5" text-anchor="middle" fill="#2c2c2c" >417</text>
<line x1="1026.50" y1="548.40" x2="1026.50" y2="551.40" stroke="#a6a6a6" stroke-width="1" />
<text x="1026.50" y="559.20" font-size="6.5" text-anchor="middle" fill="#2c2c2c" >419</text>
<line x1="623.60" y1="489.10" x2="1026.50" y2="489.10" stroke="#f08a8a" stroke-width="1.2" stroke-dasharray="2 2" />
<line x1="623.60" y1="498.34" x2="1026.50" y2="498.34" stroke="#4a4ae0" stroke-width="1.0" stroke-dasharray="2.2 2" />
<line x1="623.60" y1="532.87" x2="1026.50" y2="532.87" stroke="#cc8585" stroke-width="1.2" />
<line x1="623.60" y1="535.04" x2="1026.50" y2="535.04" stroke="#f08a8a" stroke-width="1.2" stroke-dasharray="2 2" />
<line x1="623.60" y1="540.87" x2="1026.50" y2="540.87" stroke="#80c680" stroke-width="1.2" />
<line x1="623.60" y1="544.40" x2="1026.50" y2="544.40" stroke="#cc8585" stroke-width="1.2" />
<polyline points="623.60,531.29 640.39,544.40 657.18,544.40 673.96,544.40 690.75,544.40 707.54,544.40 724.33,544.40 741.11,544.40 757.90,529.42 774.69,498.71 791.48,502.46 808.26,471.37 825.05,525.67 841.84,538.78 858.62,544.40 875.41,544.40 892.20,544.40 908.99,544.40 925.77,544.40 942.56,544.40 959.35,544.40 976.14,544.40 992.92,544.40 1009.71,536.91 1026.50,527.55" fill="none" stroke="#6a9fda" stroke-width="1.3" stroke-linejoin="round"/>
<rect x="621.80" y="529.49" width="3.60" height="3.60" fill="#d0021b" />
<text x="625.00" y="526.29" font-size="7.1" text-anchor="middle" fill="#1a1a2a" font-weight="bold" textLength="3.1" lengthAdjust="spacingAndGlyphs" >1</text>
<circle cx="640.39" cy="544.40" r="1.7" fill="#0a4fa0"/>
<circle cx="657.18" cy="544.40" r="1.7" fill="#0a4fa0"/>
<circle cx="673.96" cy="544.40" r="1.7" fill="#0a4fa0"/>
<circle cx="690.75" cy="544.40" r="1.7" fill="#0a4fa0"/>
<circle cx="707.54" cy="544.40" r="1.7" fill="#0a4fa0"/>
<circle cx="724.33" cy="544.40" r="1.7" fill="#0a4fa0"/>
<rect x="739.31" y="542.60" width="3.60" height="3.60" fill="#d0021b" />
<text x="741.41" y="553.60" font-size="7.1" text-anchor="middle" fill="#1a1a2a" font-weight="bold" textLength="3.1" lengthAdjust="spacingAndGlyphs" >2</text>
<rect x="756.10" y="527.62" width="3.60" height="3.60" fill="#d0021b" />
<text x="758.10" y="524.62" font-size="7.1" text-anchor="middle" fill="#1a1a2a" font-weight="bold" textLength="3.1" lengthAdjust="spacingAndGlyphs" >1</text>
<rect x="772.89" y="496.91" width="3.60" height="3.60" fill="#d0021b" />
<text x="774.89" y="493.91" font-size="7.1" text-anchor="middle" fill="#1a1a2a" font-weight="bold" textLength="3.1" lengthAdjust="spacingAndGlyphs" >1</text>
<rect x="789.68" y="500.66" width="3.60" height="3.60" fill="#d0021b" />
<text x="791.68" y="497.66" font-size="7.1" text-anchor="middle" fill="#1a1a2a" font-weight="bold" textLength="3.1" lengthAdjust="spacingAndGlyphs" >1</text>
<rect x="806.46" y="469.57" width="3.60" height="3.60" fill="#d0021b" />
<text x="808.56" y="480.57" font-size="7.1" text-anchor="middle" fill="#1a1a2a" font-weight="bold" textLength="3.1" lengthAdjust="spacingAndGlyphs" >1</text>
<rect x="823.25" y="523.88" width="3.60" height="3.60" fill="#d0021b" />
<text x="825.25" y="520.88" font-size="7.1" text-anchor="middle" fill="#1a1a2a" font-weight="bold" textLength="3.1" lengthAdjust="spacingAndGlyphs" >1</text>
<circle cx="841.84" cy="538.78" r="1.7" fill="#0a4fa0"/>
<circle cx="858.62" cy="544.40" r="1.7" fill="#0a4fa0"/>
<circle cx="875.41" cy="544.40" r="1.7" fill="#0a4fa0"/>
<circle cx="892.20" cy="544.40" r="1.7" fill="#0a4fa0"/>
<circle cx="908.99" cy="544.40" r="1.7" fill="#0a4fa0"/>
<circle cx="925.77" cy="544.40" r="1.7" fill="#0a4fa0"/>
<circle cx="942.56" cy="544.40" r="1.7" fill="#0a4fa0"/>
<rect x="957.55" y="542.60" width="3.60" height="3.60" fill="#d0021b" />
<text x="959.65" y="553.60" font-size="7.1" text-anchor="middle" fill="#1a1a2a" font-weight="bold" textLength="3.1" lengthAdjust="spacingAndGlyphs" >2</text>
<rect x="974.34" y="542.60" width="3.60" height="3.60" fill="#d0021b" />
<text x="976.44" y="553.60" font-size="7.1" text-anchor="middle" fill="#1a1a2a" font-weight="bold" textLength="3.1" lengthAdjust="spacingAndGlyphs" >2</text>
<rect x="991.12" y="542.60" width="3.60" height="3.60" fill="#d0021b" />
<text x="993.22" y="553.60" font-size="7.1" text-anchor="middle" fill="#1a1a2a" font-weight="bold" textLength="3.1" lengthAdjust="spacingAndGlyphs" >2</text>
<circle cx="1009.71" cy="536.91" r="1.7" fill="#0a4fa0"/>
<rect x="1024.70" y="525.75" width="3.60" height="3.60" fill="#d0021b" />
<text x="1024.80" y="522.75" font-size="7.1" text-anchor="middle" fill="#1a1a2a" font-weight="bold" textLength="3.1" lengthAdjust="spacingAndGlyphs" >1</text>
<text x="1032.00" y="492.00" font-size="6.5" text-anchor="start" fill="#383838" textLength="17.5" lengthAdjust="spacingAndGlyphs" >Line 1</text>
<text x="1032.00" y="501.00" font-size="6.5" text-anchor="start" fill="#383838" textLength="35.5" lengthAdjust="spacingAndGlyphs" >Upper Limit</text>
<text x="1032.00" y="535.60" font-size="6.5" text-anchor="start" fill="#383838" textLength="38" lengthAdjust="spacingAndGlyphs" >UCL=30.8001</text>
<text x="1032.00" y="537.60" font-size="6.5" text-anchor="start" fill="#383838" textLength="35.5" lengthAdjust="spacingAndGlyphs" >Lower Limit</text>
<text x="1032.00" y="546.00" font-size="6.5" text-anchor="start" fill="#383838" textLength="36" lengthAdjust="spacingAndGlyphs" >MR=9.42683</text>
<line x1="1032.20" y1="540.00" x2="1039.50" y2="540.00" stroke="#333" stroke-width="0.8" />
<text x="1032.00" y="547.00" font-size="6.5" text-anchor="start" fill="#383838" textLength="17" lengthAdjust="spacingAndGlyphs" >LCL=0</text>
<text x="596.70" y="508.80" font-size="8.3" text-anchor="middle" fill="#2c2c2c" textLength="52.3" lengthAdjust="spacingAndGlyphs" transform="rotate(-90 596.70 508.80)" >Moving Range</text>
<text x="825.00" y="572.00" font-size="8.3" text-anchor="middle" fill="#2c2c2c" textLength="46" lengthAdjust="spacingAndGlyphs" >Observation</text>
<text x="187.71" y="633.90" font-size="10.3" text-anchor="start" fill="#1c1c1c" textLength="21.86" lengthAdjust="spacingAndGlyphs" >I-MR</text>
<text x="211.40" y="633.90" font-size="10.3" text-anchor="start" fill="#1c1c1c" textLength="22.86" lengthAdjust="spacingAndGlyphs" >Chart</text>
<text x="237.37" y="633.90" font-size="10.3" text-anchor="start" fill="#1c1c1c" textLength="8.48" lengthAdjust="spacingAndGlyphs" >of</text>
<text x="248.10" y="633.90" font-size="10.3" text-anchor="start" fill="#1c1c1c" textLength="39.17" lengthAdjust="spacingAndGlyphs" >Diameter</text>
<line x1="221.50" y1="657.00" x2="221.50" y2="720.00" stroke="#b4b4b4" stroke-width="1.2" />
<line x1="218.50" y1="661.30" x2="221.50" y2="661.30" stroke="#a6a6a6" stroke-width="1" />
<text x="213.50" y="659.80" font-size="6.5" text-anchor="end" fill="#2c2c2c" >26</text>
<line x1="218.50" y1="680.30" x2="221.50" y2="680.30" stroke="#a6a6a6" stroke-width="1" />
<text x="213.50" y="678.80" font-size="6.5" text-anchor="end" fill="#2c2c2c" >24</text>
<line x1="218.50" y1="699.00" x2="221.50" y2="699.00" stroke="#a6a6a6" stroke-width="1" />
<text x="213.50" y="697.50" font-size="6.5" text-anchor="end" fill="#2c2c2c" >22</text>
<line x1="218.50" y1="716.70" x2="221.50" y2="716.70" stroke="#a6a6a6" stroke-width="1" />
<text x="213.50" y="715.20" font-size="6.5" text-anchor="end" fill="#2c2c2c" >20</text>
<line x1="221.80" y1="680.90" x2="513.00" y2="680.90" stroke="#6a6af0" stroke-width="1.2" stroke-dasharray="2 2" />
<line x1="221.80" y1="686.30" x2="513.00" y2="686.30" stroke="#cc8585" stroke-width="1.2" />
<line x1="221.80" y1="710.00" x2="513.00" y2="710.00" stroke="#80c680" stroke-width="1.2" />
<polyline points="221.80,661.30 233.93,661.30 246.07,661.30 258.20,661.30 270.33,661.30 282.47,661.30 294.60,661.30 306.73,661.30 318.87,661.30 331.00,661.30 343.13,661.30 355.27,661.30 367.40,661.30 379.53,661.30 391.67,661.30 403.80,707.80 415.93,707.80 428.07,707.80 440.20,707.80 452.33,707.80 464.47,707.80 476.60,707.80 488.73,707.80 500.87,707.80 513.00,661.30" fill="none" stroke="#6a9fda" stroke-width="1.3" stroke-linejoin="round"/>
<rect x="220.00" y="659.50" width="3.60" height="3.60" fill="#d0021b" />
<text x="222.70" y="670.60" font-size="6.8" text-anchor="middle" fill="#1a1a2a" font-weight="bold" textLength="3.0" lengthAdjust="spacingAndGlyphs" >1</text>
<rect x="232.13" y="659.50" width="3.60" height="3.60" fill="#d0021b" />
<text x="234.83" y="670.60" font-size="6.8" text-anchor="middle" fill="#1a1a2a" font-weight="bold" textLength="3.0" lengthAdjust="spacingAndGlyphs" >1</text>
<rect x="244.27" y="659.50" width="3.60" height="3.60" fill="#d0021b" />
<text x="246.97" y="670.60" font-size="6.8" text-anchor="middle" fill="#1a1a2a" font-weight="bold" textLength="3.0" lengthAdjust="spacingAndGlyphs" >1</text>
<rect x="256.40" y="659.50" width="3.60" height="3.60" fill="#d0021b" />
<text x="259.10" y="670.60" font-size="6.8" text-anchor="middle" fill="#1a1a2a" font-weight="bold" textLength="3.0" lengthAdjust="spacingAndGlyphs" >1</text>
<rect x="268.53" y="659.50" width="3.60" height="3.60" fill="#d0021b" />
<text x="271.23" y="670.60" font-size="6.8" text-anchor="middle" fill="#1a1a2a" font-weight="bold" textLength="3.0" lengthAdjust="spacingAndGlyphs" >1</text>
<rect x="280.67" y="659.50" width="3.60" height="3.60" fill="#d0021b" />
<text x="283.37" y="670.60" font-size="6.8" text-anchor="middle" fill="#1a1a2a" font-weight="bold" textLength="3.0" lengthAdjust="spacingAndGlyphs" >1</text>
<rect x="292.80" y="659.50" width="3.60" height="3.60" fill="#d0021b" />
<text x="295.50" y="670.60" font-size="6.8" text-anchor="middle" fill="#1a1a2a" font-weight="bold" textLength="3.0" lengthAdjust="spacingAndGlyphs" >1</text>
<rect x="304.93" y="659.50" width="3.60" height="3.60" fill="#d0021b" />
<text x="307.63" y="670.60" font-size="6.8" text-anchor="middle" fill="#1a1a2a" font-weight="bold" textLength="3.0" lengthAdjust="spacingAndGlyphs" >1</text>
<rect x="317.07" y="659.50" width="3.60" height="3.60" fill="#d0021b" />
<text x="319.77" y="670.60" font-size="6.8" text-anchor="middle" fill="#1a1a2a" font-weight="bold" textLength="3.0" lengthAdjust="spacingAndGlyphs" >1</text>
<rect x="329.20" y="659.50" width="3.60" height="3.60" fill="#d0021b" />
<text x="331.90" y="670.60" font-size="6.8" text-anchor="middle" fill="#1a1a2a" font-weight="bold" textLength="3.0" lengthAdjust="spacingAndGlyphs" >1</text>
<rect x="341.33" y="659.50" width="3.60" height="3.60" fill="#d0021b" />
<text x="344.03" y="670.60" font-size="6.8" text-anchor="middle" fill="#1a1a2a" font-weight="bold" textLength="3.0" lengthAdjust="spacingAndGlyphs" >1</text>
<rect x="353.47" y="659.50" width="3.60" height="3.60" fill="#d0021b" />
<text x="356.17" y="670.60" font-size="6.8" text-anchor="middle" fill="#1a1a2a" font-weight="bold" textLength="3.0" lengthAdjust="spacingAndGlyphs" >1</text>
<rect x="365.60" y="659.50" width="3.60" height="3.60" fill="#d0021b" />
<text x="368.30" y="670.60" font-size="6.8" text-anchor="middle" fill="#1a1a2a" font-weight="bold" textLength="3.0" lengthAdjust="spacingAndGlyphs" >1</text>
<rect x="377.73" y="659.50" width="3.60" height="3.60" fill="#d0021b" />
<text x="380.43" y="670.60" font-size="6.8" text-anchor="middle" fill="#1a1a2a" font-weight="bold" textLength="3.0" lengthAdjust="spacingAndGlyphs" >1</text>
<rect x="389.87" y="659.50" width="3.60" height="3.60" fill="#d0021b" />
<text x="392.57" y="670.60" font-size="6.8" text-anchor="middle" fill="#1a1a2a" font-weight="bold" textLength="3.0" lengthAdjust="spacingAndGlyphs" >1</text>
<circle cx="403.80" cy="707.80" r="1.7" fill="#0a4fa0"/>
<circle cx="415.93" cy="707.80" r="1.7" fill="#0a4fa0"/>
<circle cx="428.07" cy="707.80" r="1.7" fill="#0a4fa0"/>
<circle cx="440.20" cy="707.80" r="1.7" fill="#0a4fa0"/>
<circle cx="452.33" cy="707.80" r="1.7" fill="#0a4fa0"/>
<circle cx="464.47" cy="707.80" r="1.7" fill="#0a4fa0"/>
<circle cx="476.60" cy="707.80" r="1.7" fill="#0a4fa0"/>
<circle cx="488.73" cy="707.80" r="1.7" fill="#0a4fa0"/>
<circle cx="500.87" cy="707.80" r="1.7" fill="#0a4fa0"/>
<rect x="511.20" y="659.50" width="3.60" height="3.60" fill="#d0021b" />
<text x="511.00" y="670.60" font-size="6.8" text-anchor="middle" fill="#1a1a2a" font-weight="bold" textLength="3.0" lengthAdjust="spacingAndGlyphs" >1</text>
<text x="517.70" y="684.20" font-size="6.5" text-anchor="start" fill="#383838" textLength="17.5" lengthAdjust="spacingAndGlyphs" >Line 1</text>
<text x="517.70" y="689.40" font-size="6.5" text-anchor="start" fill="#383838" textLength="38.5" lengthAdjust="spacingAndGlyphs" >UCL=23.3565</text>
<text x="517.70" y="714.60" font-size="6.5" text-anchor="start" fill="#383838" textLength="31" lengthAdjust="spacingAndGlyphs" >X=20.8305</text>
<line x1="517.90" y1="707.10" x2="521.70" y2="707.10" stroke="#222" stroke-width="1.1" />
<text x="199.30" y="696.80" font-size="8.3" text-anchor="middle" fill="#2c2c2c" textLength="59.5" lengthAdjust="spacingAndGlyphs" transform="rotate(-90 199.30 696.80)" >Individual Value</text>
<text x="587.55" y="633.90" font-size="10.3" text-anchor="start" fill="#1c1c1c" textLength="32.65" lengthAdjust="spacingAndGlyphs" >Process</text>
<text x="622.49" y="633.90" font-size="10.3" text-anchor="start" fill="#1c1c1c" textLength="41.56" lengthAdjust="spacingAndGlyphs" >Capability</text>
<text x="667.20" y="633.90" font-size="10.3" text-anchor="start" fill="#1c1c1c" textLength="28.99" lengthAdjust="spacingAndGlyphs" >Report</text>
<text x="698.66" y="633.90" font-size="10.3" text-anchor="start" fill="#1c1c1c" textLength="11.2" lengthAdjust="spacingAndGlyphs" >for</text>
<text x="713.20" y="633.90" font-size="10.3" text-anchor="start" fill="#1c1c1c" textLength="39.06" lengthAdjust="spacingAndGlyphs" >Diameter</text>
<text x="587.50" y="654.70" font-size="7.7" text-anchor="start" fill="#383838" textLength="58.5" lengthAdjust="spacingAndGlyphs" >%OOS (observed)</text>
<text x="669.50" y="654.70" font-size="7.7" text-anchor="start" fill="#383838" textLength="12.3" lengthAdjust="spacingAndGlyphs" >Ppk</text>
<text x="587.50" y="677.60" font-size="17.8" text-anchor="start" fill="#111" textLength="38.6" lengthAdjust="spacingAndGlyphs" >12.17</text>
<text x="626.90" y="672.00" font-size="12" text-anchor="start" fill="#222" textLength="10.5" lengthAdjust="spacingAndGlyphs" >%</text>
<text x="669.30" y="677.60" font-size="17.8" text-anchor="start" fill="#111" textLength="35" lengthAdjust="spacingAndGlyphs" >0.45</text>
<line x1="623.00" y1="703.00" x2="623.00" y2="720.00" stroke="#a6a6a6" stroke-width="1.2" />
<line x1="620.00" y1="709.50" x2="623.00" y2="709.50" stroke="#a6a6a6" stroke-width="1" />
<text x="615.00" y="711.80" font-size="6.5" text-anchor="end" fill="#2c2c2c" >300</text>
<rect x="898.80" y="709.50" width="26.40" height="12.00" fill="#7ba3d9" stroke="#5c6b80" stroke-width="0.8" />
<line x1="832.20" y1="703.40" x2="832.20" y2="720.00" stroke="#e03030" stroke-width="1.1" stroke-dasharray="2 1.6" />
<text x="832.50" y="697.80" font-size="6.1" text-anchor="middle" fill="#96402f" stroke="#96402f" stroke-width="0.15">LSL</text>
<line x1="1017.80" y1="703.40" x2="1017.80" y2="720.00" stroke="#e03030" stroke-width="1.1" stroke-dasharray="2 1.6" />
<text x="1018.10" y="697.80" font-size="6.1" text-anchor="middle" fill="#96402f" stroke="#96402f" stroke-width="0.15">USL</text>
</svg>
</body></html>
